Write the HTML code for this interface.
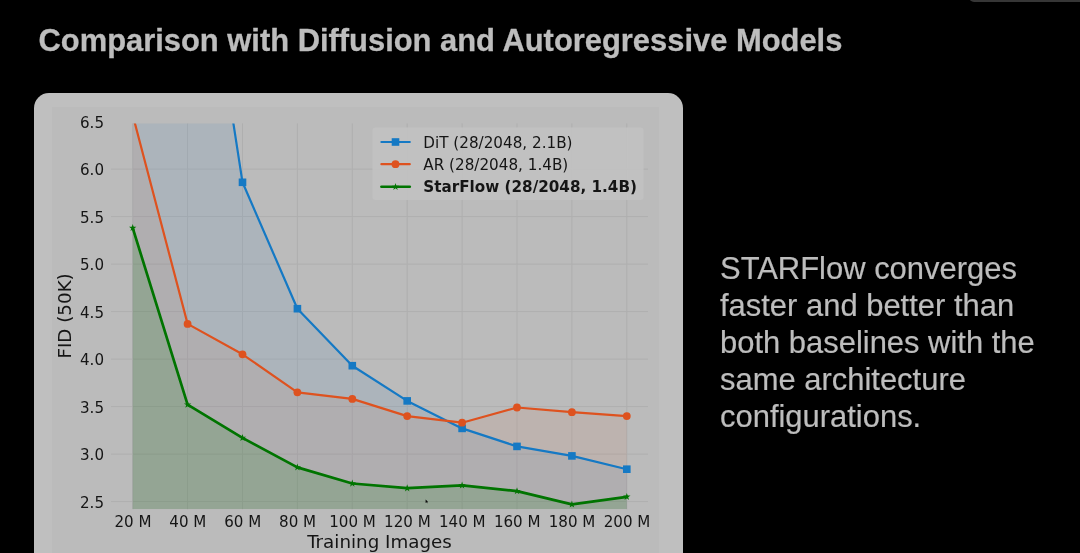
<!DOCTYPE html>
<html lang="en">
<head>
<meta charset="utf-8">
<title>Comparison with Diffusion and Autoregressive Models</title>
<style>
html, body { margin: 0; padding: 0; background: #000; }
body { width: 1080px; height: 553px; overflow: hidden; position: relative;
  font-family: "Liberation Sans", Arial, Helvetica, sans-serif; }
.slide { position: absolute; left: 0; top: 0; width: 1080px; height: 553px; background: #000; overflow: hidden; }
.tab { position: absolute; left: 969px; top: -10px; width: 130px; height: 12.2px; background: #363636; border-radius: 0 0 0 5px; }
h1 { position: absolute; left: 38.5px; top: 22.7px; margin: 0; font-size: 30.9px; line-height: 36px; font-weight: bold;
  color: #bdbdbd; -webkit-text-stroke: 0.3px #bdbdbd; white-space: nowrap; letter-spacing: 0; filter: blur(0.45px); }
.card { position: absolute; left: 34px; top: 93.2px; width: 649px; height: 480px; background: #bfbfbf; border-radius: 15px; }
.fig { position: absolute; left: 51.5px; top: 107.2px; width: 607px; height: 460px; background: #bbbbbb; }
.chart { position: absolute; left: 0; top: 0; filter: blur(0.45px); }
.note { position: absolute; left: 720px; top: 249.7px; margin: 0; width: 340px; font-size: 30.95px; line-height: 37.15px;
  color: #bdbdbd; -webkit-text-stroke: 0.2px #bdbdbd; filter: blur(0.45px); }
</style>
</head>
<body>
<div class="slide">
<div class="tab"></div>
<h1>Comparison with Diffusion and Autoregressive Models</h1>
<div class="card"></div>
<div class="fig"></div>
<svg class="chart" width="1080" height="553" viewBox="0 0 1080 553">
<defs><clipPath id="ax"><rect x="111.0" y="123.4" width="537.0" height="385.79999999999995"/></clipPath></defs>
<g stroke="#a9a9a9" stroke-width="1" opacity="0.65">
<line x1="132.7" y1="123.4" x2="132.7" y2="509.2"/>
<line x1="187.6" y1="123.4" x2="187.6" y2="509.2"/>
<line x1="242.5" y1="123.4" x2="242.5" y2="509.2"/>
<line x1="297.4" y1="123.4" x2="297.4" y2="509.2"/>
<line x1="352.29999999999995" y1="123.4" x2="352.29999999999995" y2="509.2"/>
<line x1="407.2" y1="123.4" x2="407.2" y2="509.2"/>
<line x1="462.09999999999997" y1="123.4" x2="462.09999999999997" y2="509.2"/>
<line x1="517.0" y1="123.4" x2="517.0" y2="509.2"/>
<line x1="571.9" y1="123.4" x2="571.9" y2="509.2"/>
<line x1="626.8" y1="123.4" x2="626.8" y2="509.2"/>
<line x1="111.0" y1="501.6" x2="648.0" y2="501.6"/>
<line x1="111.0" y1="454.1" x2="648.0" y2="454.1"/>
<line x1="111.0" y1="406.6" x2="648.0" y2="406.6"/>
<line x1="111.0" y1="359.1" x2="648.0" y2="359.1"/>
<line x1="111.0" y1="311.6" x2="648.0" y2="311.6"/>
<line x1="111.0" y1="264.1" x2="648.0" y2="264.1"/>
<line x1="111.0" y1="216.6" x2="648.0" y2="216.6"/>
<line x1="111.0" y1="169.1" x2="648.0" y2="169.1"/>
</g>
<g clip-path="url(#ax)">
<polygon points="132.7,509.2 132.7,-591.0 187.6,-172.9 242.5,182.3 297.4,308.7 352.3,365.7 407.2,400.9 462.1,428.4 517.0,446.4 571.9,455.9 626.8,469.2 626.8,509.2" fill="#1579c4" fill-opacity="0.085"/>
<polygon points="132.7,509.2 132.7,114.9 187.6,323.9 242.5,354.3 297.4,392.3 352.3,398.9 407.2,416.1 462.1,422.7 517.0,407.5 571.9,412.2 626.8,416.1 626.8,509.2" fill="#de521f" fill-opacity="0.07"/>
<polygon points="132.7,509.2 132.7,227.9 187.6,404.7 242.5,437.9 297.4,467.4 352.3,483.5 407.2,488.2 462.1,485.4 517.0,491.1 571.9,504.4 626.8,496.8 626.8,509.2" fill="#007400" fill-opacity="0.16"/>
<polyline points="132.7,-591.0 187.6,-172.9 242.5,182.3 297.4,308.7 352.3,365.7 407.2,400.9 462.1,428.4 517.0,446.4 571.9,455.9 626.8,469.2" fill="none" stroke="#1579c4" stroke-width="2.2" stroke-linejoin="round" stroke-linecap="round"/>
<polyline points="132.7,114.9 187.6,323.9 242.5,354.3 297.4,392.3 352.3,398.9 407.2,416.1 462.1,422.7 517.0,407.5 571.9,412.2 626.8,416.1" fill="none" stroke="#de521f" stroke-width="2.2" stroke-linejoin="round" stroke-linecap="round"/>
<polyline points="132.7,227.9 187.6,404.7 242.5,437.9 297.4,467.4 352.3,483.5 407.2,488.2 462.1,485.4 517.0,491.1 571.9,504.4 626.8,496.8" fill="none" stroke="#007400" stroke-width="2.7" stroke-linejoin="round" stroke-linecap="round"/>
</g>
<rect x="238.7" y="178.5" width="7.6" height="7.6" fill="#1579c4"/>
<rect x="293.6" y="304.9" width="7.6" height="7.6" fill="#1579c4"/>
<rect x="348.5" y="361.9" width="7.6" height="7.6" fill="#1579c4"/>
<rect x="403.4" y="397.1" width="7.6" height="7.6" fill="#1579c4"/>
<rect x="458.3" y="424.6" width="7.6" height="7.6" fill="#1579c4"/>
<rect x="513.2" y="442.6" width="7.6" height="7.6" fill="#1579c4"/>
<rect x="568.1" y="452.1" width="7.6" height="7.6" fill="#1579c4"/>
<rect x="623.0" y="465.4" width="7.6" height="7.6" fill="#1579c4"/>
<circle cx="187.6" cy="323.9" r="3.9" fill="#de521f"/>
<circle cx="242.5" cy="354.3" r="3.9" fill="#de521f"/>
<circle cx="297.4" cy="392.3" r="3.9" fill="#de521f"/>
<circle cx="352.3" cy="398.9" r="3.9" fill="#de521f"/>
<circle cx="407.2" cy="416.1" r="3.9" fill="#de521f"/>
<circle cx="462.1" cy="422.7" r="3.9" fill="#de521f"/>
<circle cx="517.0" cy="407.5" r="3.9" fill="#de521f"/>
<circle cx="571.9" cy="412.2" r="3.9" fill="#de521f"/>
<circle cx="626.8" cy="416.1" r="3.9" fill="#de521f"/>
<polygon points="132.70,224.05 133.58,226.74 136.41,226.74 134.12,228.41 134.99,231.11 132.70,229.44 130.41,231.11 131.28,228.41 128.99,226.74 131.82,226.74" fill="#007400"/>
<polygon points="187.60,400.75 188.48,403.44 191.31,403.44 189.02,405.11 189.89,407.81 187.60,406.14 185.31,407.81 186.18,405.11 183.89,403.44 186.72,403.44" fill="#007400"/>
<polygon points="242.50,434.00 243.38,436.69 246.21,436.69 243.92,438.36 244.79,441.06 242.50,439.39 240.21,441.06 241.08,438.36 238.79,436.69 241.62,436.69" fill="#007400"/>
<polygon points="297.40,463.45 298.28,466.14 301.11,466.14 298.82,467.81 299.69,470.51 297.40,468.84 295.11,470.51 295.98,467.81 293.69,466.14 296.52,466.14" fill="#007400"/>
<polygon points="352.30,479.60 353.18,482.29 356.01,482.29 353.72,483.96 354.59,486.66 352.30,484.99 350.01,486.66 350.88,483.96 348.59,482.29 351.42,482.29" fill="#007400"/>
<polygon points="407.20,484.35 408.08,487.04 410.91,487.04 408.62,488.71 409.49,491.41 407.20,489.74 404.91,491.41 405.78,488.71 403.49,487.04 406.32,487.04" fill="#007400"/>
<polygon points="462.10,481.50 462.98,484.19 465.81,484.19 463.52,485.86 464.39,488.56 462.10,486.89 459.81,488.56 460.68,485.86 458.39,484.19 461.22,484.19" fill="#007400"/>
<polygon points="517.00,487.20 517.88,489.89 520.71,489.89 518.42,491.56 519.29,494.26 517.00,492.59 514.71,494.26 515.58,491.56 513.29,489.89 516.12,489.89" fill="#007400"/>
<polygon points="571.90,500.50 572.78,503.19 575.61,503.19 573.32,504.86 574.19,507.56 571.90,505.89 569.61,507.56 570.48,504.86 568.19,503.19 571.02,503.19" fill="#007400"/>
<polygon points="626.80,492.90 627.68,495.59 630.51,495.59 628.22,497.26 629.09,499.96 626.80,498.29 624.51,499.96 625.38,497.26 623.09,495.59 625.92,495.59" fill="#007400"/>
<rect x="372.5" y="127.5" width="271" height="72.5" rx="3" fill="#c2c2c2" fill-opacity="0.9"/>
<line x1="381.4" y1="142" x2="409.8" y2="142" stroke="#1579c4" stroke-width="2.2" stroke-linecap="round"/>
<line x1="381.4" y1="164.2" x2="409.8" y2="164.2" stroke="#de521f" stroke-width="2.2" stroke-linecap="round"/>
<line x1="381.4" y1="186.7" x2="409.8" y2="186.7" stroke="#007400" stroke-width="2.6" stroke-linecap="round"/>
<rect x="391.7" y="138.2" width="7.6" height="7.6" fill="#1579c4"/>
<circle cx="395.5" cy="164.2" r="3.9" fill="#de521f"/>
<polygon points="395.50,183.10 396.35,185.73 399.11,185.73 396.88,187.35 397.73,189.97 395.50,188.35 393.27,189.97 394.12,187.35 391.89,185.73 394.65,185.73" fill="#007400"/>
<g font-family="'DejaVu Sans', 'Liberation Sans', sans-serif" fill="#151515">
<g font-size="15.2">
<text x="423.3" y="147.6">DiT (28/2048, 2.1B)</text>
<text x="423.3" y="169.8">AR (28/2048, 1.4B)</text>
<text x="423.3" y="192.2" font-weight="bold">StarFlow (28/2048, 1.4B)</text>
</g>
<g font-size="15.1" text-anchor="middle">
<text x="132.9" y="526.5">20 M</text>
<text x="187.8" y="526.5">40 M</text>
<text x="242.7" y="526.5">60 M</text>
<text x="297.6" y="526.5">80 M</text>
<text x="352.5" y="526.5">100 M</text>
<text x="407.4" y="526.5">120 M</text>
<text x="462.3" y="526.5">140 M</text>
<text x="517.2" y="526.5">160 M</text>
<text x="572.1" y="526.5">180 M</text>
<text x="627.0" y="526.5">200 M</text>
</g>
<g font-size="15.1" text-anchor="end">
<text x="104" y="507.6">2.5</text>
<text x="104" y="460.1">3.0</text>
<text x="104" y="412.6">3.5</text>
<text x="104" y="365.1">4.0</text>
<text x="104" y="317.6">4.5</text>
<text x="104" y="270.1">5.0</text>
<text x="104" y="222.6">5.5</text>
<text x="104" y="175.1">6.0</text>
<text x="104" y="127.5">6.5</text>
</g>
<text x="379.5" y="547.8" font-size="18.3" text-anchor="middle">Training Images</text>
<text transform="translate(71.2,315.9) rotate(-90)" font-size="18.3" text-anchor="middle">FID (50K)</text>
</g>
<polygon points="425.6,499.6 425.6,502.9 426.5,502.2 427.2,503.3 427.7,503 427.1,502 428,501.8" fill="#0a0a0a"/>
</svg>
<p class="note">STARFlow converges<br>faster and better than<br>both baselines with the<br>same architecture<br>configurations.</p>
</div>
</body>
</html>
